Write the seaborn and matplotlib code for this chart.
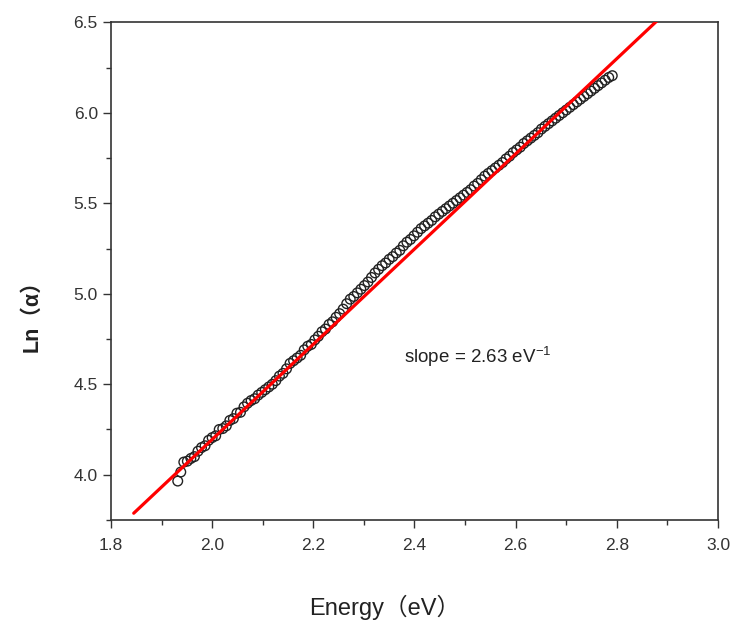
import numpy as np
import pandas as pd
import matplotlib.pyplot as plt
import seaborn as sns
from matplotlib.ticker import MultipleLocator

# measured points: photon energy (eV) and ln(alpha)
energy = [1.932, 1.938, 1.944, 1.951, 1.958, 1.965, 1.972, 1.979, 1.986, 1.993,
          2.000, 2.007, 2.014, 2.021, 2.028, 2.035, 2.042, 2.049, 2.056, 2.063,
          2.070, 2.077, 2.084, 2.091, 2.098, 2.105, 2.112, 2.119, 2.126, 2.133,
          2.140, 2.147, 2.154, 2.161, 2.168, 2.175, 2.182, 2.189, 2.196, 2.203,
          2.210, 2.217, 2.224, 2.231, 2.238, 2.245, 2.252, 2.259, 2.266, 2.273,
          2.280, 2.287, 2.294, 2.301, 2.308, 2.315, 2.322, 2.329, 2.336, 2.343,
          2.350, 2.357, 2.364, 2.371, 2.378, 2.385, 2.392, 2.399, 2.406, 2.413,
          2.420, 2.427, 2.434, 2.441, 2.448, 2.455, 2.462, 2.469, 2.476, 2.483,
          2.490, 2.497, 2.504, 2.511, 2.518, 2.525, 2.532, 2.539, 2.546, 2.553,
          2.560, 2.567, 2.574, 2.581, 2.588, 2.595, 2.602, 2.609, 2.616, 2.623,
          2.630, 2.637, 2.644, 2.651, 2.658, 2.665, 2.672, 2.679, 2.686, 2.693,
          2.700, 2.707, 2.714, 2.721, 2.728, 2.735, 2.742, 2.749, 2.756, 2.763,
          2.770, 2.777, 2.784, 2.791]
ln_alpha = [3.965, 4.015, 4.070, 4.075, 4.090, 4.100, 4.130, 4.150, 4.160, 4.190,
            4.205, 4.215, 4.250, 4.255, 4.270, 4.300, 4.310, 4.340, 4.345, 4.375,
            4.395, 4.410, 4.420, 4.440, 4.455, 4.470, 4.485, 4.500, 4.520, 4.545,
            4.560, 4.585, 4.615, 4.630, 4.645, 4.660, 4.690, 4.710, 4.720, 4.745,
            4.765, 4.790, 4.805, 4.830, 4.845, 4.870, 4.890, 4.915, 4.945, 4.970,
            4.985, 5.005, 5.025, 5.045, 5.065, 5.090, 5.115, 5.135, 5.155, 5.170,
            5.190, 5.205, 5.225, 5.240, 5.265, 5.285, 5.300, 5.320, 5.340, 5.360,
            5.375, 5.390, 5.405, 5.425, 5.440, 5.455, 5.470, 5.485, 5.500, 5.515,
            5.530, 5.545, 5.560, 5.575, 5.595, 5.610, 5.630, 5.650, 5.665, 5.680,
            5.695, 5.710, 5.725, 5.745, 5.760, 5.780, 5.795, 5.810, 5.830, 5.845,
            5.860, 5.875, 5.890, 5.910, 5.925, 5.940, 5.955, 5.970, 5.985, 6.000,
            6.015, 6.030, 6.045, 6.060, 6.075, 6.090, 6.105, 6.120, 6.135, 6.150,
            6.165, 6.180, 6.195, 6.205]

# linear fit (slope 2.63 eV^-1)
fit_slope = 2.63
fit_intercept = -1.065
fit_energy = [1.845, 2.88]

x_ticks = [1.8, 2.0, 2.2, 2.4, 2.6, 2.8, 3.0]
y_ticks = [4.0, 4.5, 5.0, 5.5, 6.0, 6.5]

sns.set_style("ticks")
plt.rcParams['font.family'] = ['Liberation Sans', 'Noto Sans CJK SC', 'DejaVu Sans']
plt.rcParams['mathtext.fontset'] = 'custom'
plt.rcParams['mathtext.rm'] = 'Liberation Sans'

df = pd.DataFrame({"energy": energy, "ln_alpha": ln_alpha})
fit_df = pd.DataFrame({"energy": fit_energy,
                       "ln_alpha": [fit_slope * e + fit_intercept for e in fit_energy]})

fig = plt.figure(figsize=(7.31, 6.24), dpi=100)
ax = fig.add_axes([0.1518, 0.1667, 0.8304, 0.7976])

sns.lineplot(data=fit_df, x="energy", y="ln_alpha", color="#ff0000", linewidth=2.3, ax=ax, zorder=3)
sns.scatterplot(data=df, x="energy", y="ln_alpha", marker="o", s=48,
                facecolor="none", edgecolor="#222222", linewidth=1.0, ax=ax, zorder=2)

ax.set_xlim(1.8, 3.0)
ax.set_ylim(3.75, 6.5)
ax.set_xticks(x_ticks)
ax.set_yticks(y_ticks)
ax.xaxis.set_minor_locator(MultipleLocator(0.1))
ax.yaxis.set_minor_locator(MultipleLocator(0.25))
ax.tick_params(which="major", direction="out", length=6, width=1.0, color="#333333",
               labelsize=12.5, labelcolor="#333333", top=False, right=False)
ax.tick_params(which="minor", direction="out", length=3.5, width=1.0, color="#333333",
               top=False, right=False)
ax.tick_params(axis="x", pad=7)

for side in ["top", "right", "bottom", "left"]:
    ax.spines[side].set_visible(True)
    ax.spines[side].set_linewidth(1.2)
    ax.spines[side].set_color("#333333")

ax.set_xlabel("Energy（eV）", fontsize=17, color="#222222", va="center")
ax.set_ylabel("Ln（α）", fontsize=15.5, fontweight="bold", color="#222222", va="center")
ax.xaxis.set_label_coords(0.451, -0.175)
ax.yaxis.set_label_coords(-0.13, 0.42)

ax.text(2.526, 4.65, "slope = 2.63 eV$^{-1}$", fontsize=13.5, color="#222222",
        ha="center", va="center")

fig.savefig("out.png", dpi=100)
